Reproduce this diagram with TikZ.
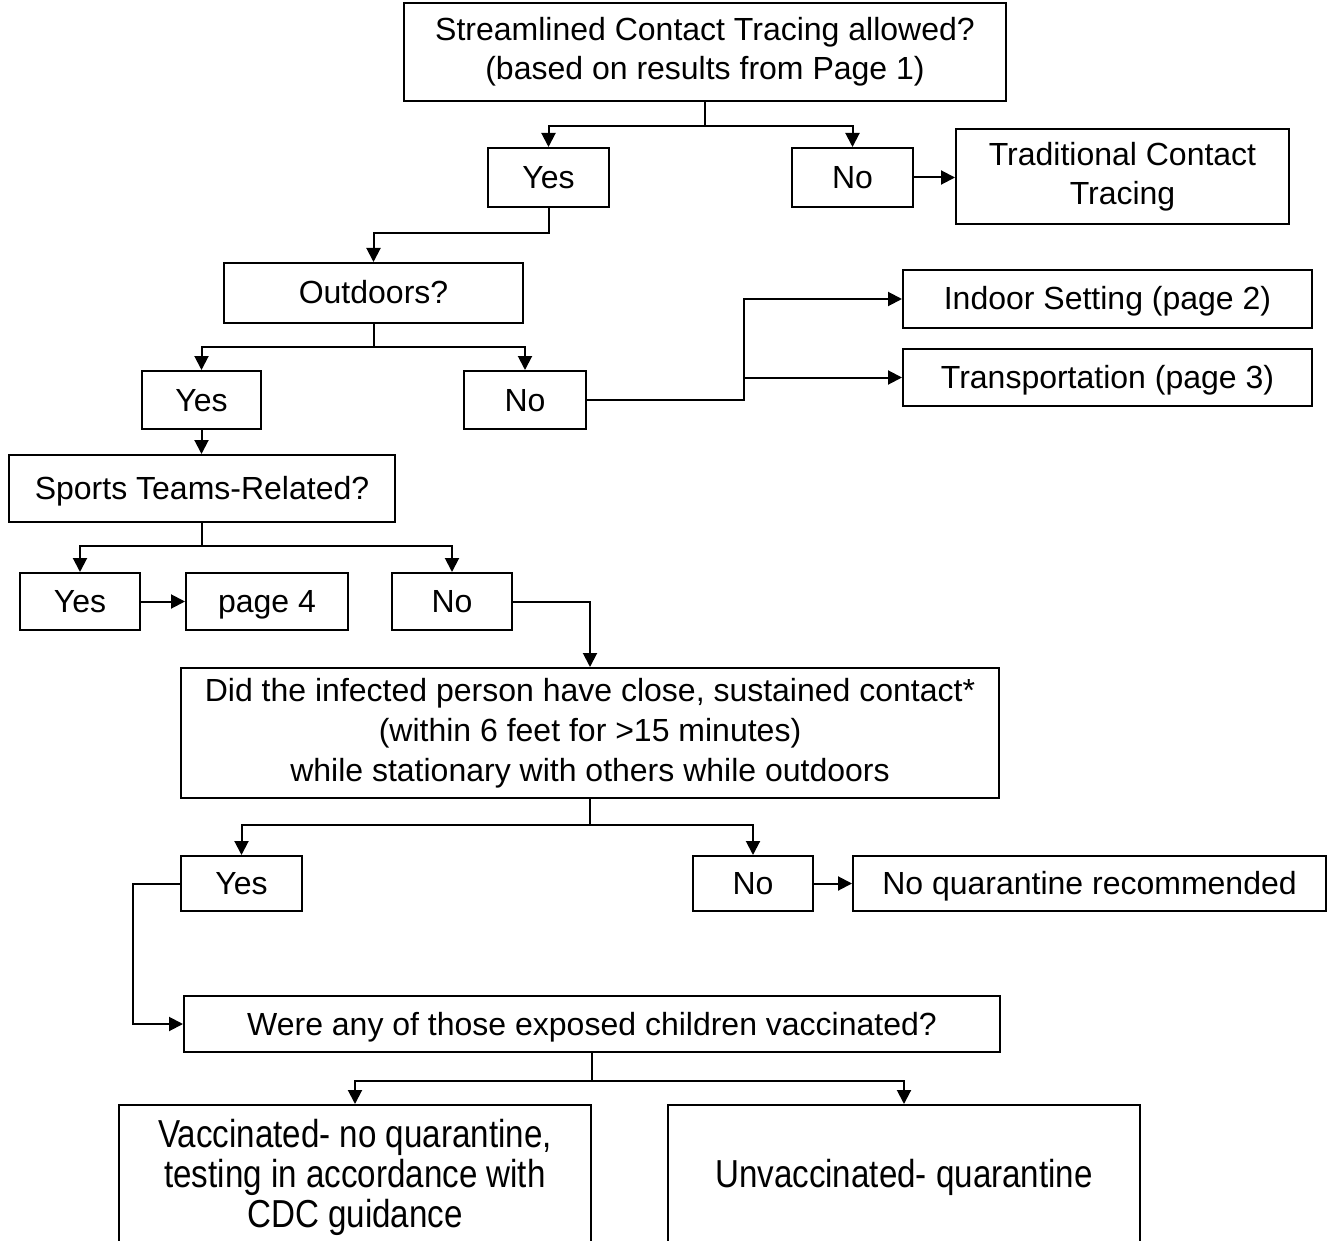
\documentclass[tikz,border=0pt]{standalone}
\usepackage{fontspec}
\setmainfont{Liberation Sans}
\usetikzlibrary{arrows.meta}
\begin{document}
\begin{tikzpicture}[x=0.5pt,y=-0.5pt,
  box/.style={draw=black,line width=1pt,inner sep=0pt,align=center,
    font=\fontsize{16}{19.5}\selectfont},
  one/.style={text height=11pt,text depth=0pt},
  arr/.style={draw=black,line width=1pt,-{Triangle[length=7pt,width=7pt]}},
  ln/.style={draw=black,line width=1pt}]
\useasboundingbox (0,0) rectangle (1328,1241);
\clip (0,0) rectangle (1328,1241);
\fill[white] (0,0) rectangle (1328,1241);
\node[box,minimum width={602*0.5pt},minimum height={98*0.5pt}] (top) at (705,52) {Streamlined Contact Tracing allowed?\\(based on results from Page 1)};
\node[box,one,minimum width={121*0.5pt},minimum height={59*0.5pt}] (yes1) at (548.5,177.5) {Yes};
\node[box,one,minimum width={121*0.5pt},minimum height={59*0.5pt}] (no1) at (852.5,177.5) {No};
\node[box,minimum width={333*0.5pt},minimum height={95*0.5pt}] (trad) at (1122.5,176.5) {Traditional Contact\\Tracing};
\node[box,one,minimum width={299*0.5pt},minimum height={60*0.5pt}] (out) at (373.5,293) {Outdoors?};
\node[box,one,minimum width={119*0.5pt},minimum height={58*0.5pt}] (yes2) at (201.5,400) {Yes};
\node[box,one,minimum width={122*0.5pt},minimum height={58*0.5pt}] (no2) at (525,400) {No};
\node[box,one,minimum width={409*0.5pt},minimum height={58*0.5pt}] (indoor) at (1107.5,299) {Indoor Setting (page 2)};
\node[box,one,minimum width={409*0.5pt},minimum height={57*0.5pt}] (trans) at (1107.5,377.5) {Transportation (page 3)};
\node[box,one,minimum width={386*0.5pt},minimum height={67*0.5pt}] (sports) at (202,488.5) {Sports Teams-Related?};
\node[box,one,minimum width={120*0.5pt},minimum height={57*0.5pt}] (yes3) at (80,601.5) {Yes};
\node[box,one,minimum width={162*0.5pt},minimum height={57*0.5pt}] (page4) at (267,601.5) {page 4};
\node[box,one,minimum width={120*0.5pt},minimum height={57*0.5pt}] (no3) at (452,601.5) {No};
\node[box,minimum width={818*0.5pt},minimum height={130*0.5pt},font=\fontsize{16}{20}\selectfont] (big) at (590,733) {Did the infected person have close, sustained contact*\\(within 6 feet for >15 minutes)\\while stationary with others while outdoors};
\node[box,one,minimum width={121*0.5pt},minimum height={55*0.5pt}] (yes4) at (241.5,883.5) {Yes};
\node[box,one,minimum width={120*0.5pt},minimum height={55*0.5pt}] (no4) at (753,883.5) {No};
\node[box,one,minimum width={473*0.5pt},minimum height={55*0.5pt}] (noq) at (1089.5,883.5) {No quarantine recommended};
\node[box,one,minimum width={816*0.5pt},minimum height={56*0.5pt}] (were) at (592,1024) {Were any of those exposed children vaccinated?};
\node[box,minimum width={472*0.5pt},minimum height={145*0.5pt},font=\fontsize{19.5}{20}\selectfont] (vac) at (355,1177.5) {\scalebox{0.85}[1]{Vaccinated- no quarantine,}\\\scalebox{0.85}[1]{testing in accordance with}\\\scalebox{0.85}[1]{CDC guidance}};
\node[box,minimum width={472*0.5pt},minimum height={145*0.5pt},font=\fontsize{19.5}{20}\selectfont] (unvac) at (904,1177.5) {\scalebox{0.85}[1]{Unvaccinated- quarantine}};
% connectors
\draw[arr] (top.south) -- ++(0,24) -| (yes1.north);
\draw[arr] (top.south) -- ++(0,24) -| (no1.north);
\draw[arr] (no1.east) -- (no1.east -| trad.west);
\draw[arr] (yes1.south) -- ++(0,25) -| (out.north);
\draw[arr] (out.south) -- ++(0,23) -| (yes2.north);
\draw[arr] (out.south) -- ++(0,23) -| (no2.north);
\coordinate (jn) at (744,400);
\draw[arr] (no2.east) -- (jn) |- (indoor.west);
\draw[arr] (jn |- trans.west) -- (trans.west);
\draw[arr] (yes2.south) -- (yes2.south |- sports.north);
\draw[arr] (sports.south) -- ++(0,23) -| (yes3.north);
\draw[arr] (sports.south) -- ++(0,23) -| (no3.north);
\draw[arr] (yes3.east) -- (page4.west);
\draw[arr] (no3.east) -| (big.north);
\draw[arr] (big.south) -- ++(0,26) -| (yes4.north);
\draw[arr] (big.south) -- ++(0,26) -| (no4.north);
\draw[arr] (no4.east) -- (noq.west);
\draw[arr] (yes4.west) -- ++(-47,0) |- (were.west);
\draw[arr] (were.south) -- ++(0,28) -| (vac.north);
\draw[arr] (were.south) -- ++(0,28) -| (unvac.north);
\end{tikzpicture}
\end{document}
